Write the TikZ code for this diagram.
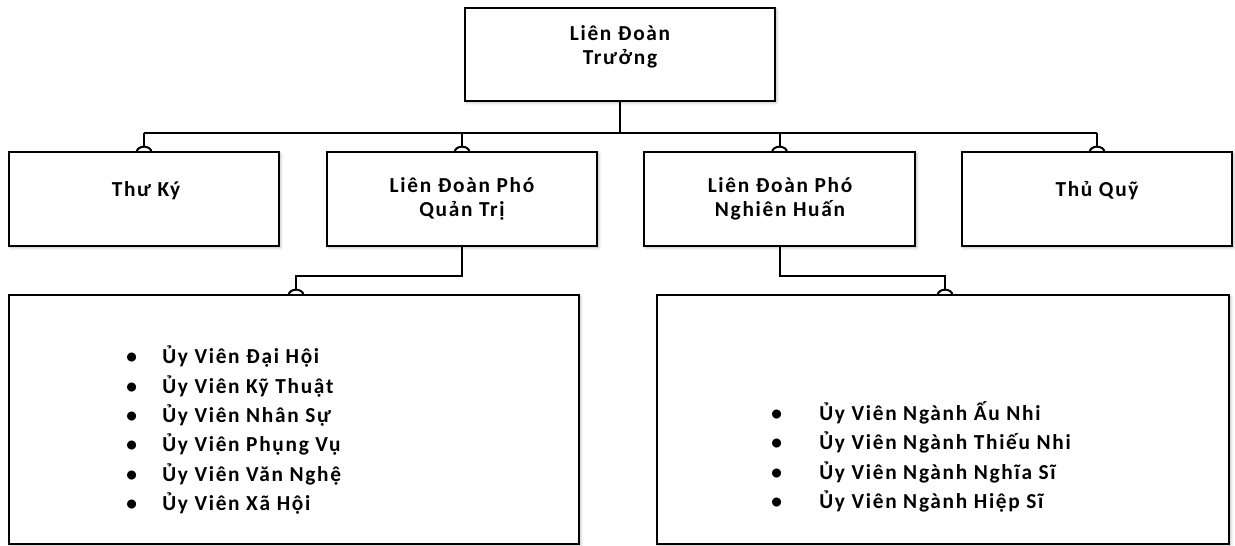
\documentclass[tikz,border=0pt]{standalone}
\usepackage{fontspec}
\setmainfont{Carlito}[LetterSpace=8]
\usetikzlibrary{fit,calc,shadows.blur}
\begin{document}
\begin{tikzpicture}[x=0.75pt,y=-0.75pt,
  box/.style={draw=black, line width=1.5pt, fill=white, inner sep=0pt, outer sep=0pt,
    blur shadow={shadow xshift=1.2pt, shadow yshift=-1.2pt, shadow blur radius=2pt, shadow opacity=30}},
  lbl/.style={font=\fontsize{16}{18}\selectfont\bfseries, align=center, inner sep=0pt},
  lst/.style={font=\fontsize{16}{22}\selectfont\bfseries, align=left, inner sep=0pt, anchor=west},
  conn/.style={line width=1.5pt, line join=miter},
  jump/.style={line width=1.5pt}]
\useasboundingbox (0,0) rectangle (1235,546);

% boxes
\node[box, fit={(465,8) (775,101)}] (top) {};
\node[box, fit={(9,152) (279,246)}] (thu) {};
\node[box, fit={(327,152) (597,246)}] (qt) {};
\node[box, fit={(644,152) (915,246)}] (nh) {};
\node[box, fit={(962,152) (1232,246)}] (quy) {};
\node[box, fit={(9,295) (579,544)}] (adm) {};
\node[box, fit={(657,295) (1229,544)}] (hl) {};

% labels
\node[lbl] (ltop) at (620,47) {Liên Đoàn\\Trưởng};
\node[lbl] (lthu) at (146,191) {Thư Ký};
\node[lbl] (lqt) at (462,199) {Liên Đoàn Phó\\Quản Trị};
\node[lbl] (lnh) at (780,199) {Liên Đoàn Phó\\Nghiên Huấn};
\node[lbl] (lquy) at (1097,191) {Thủ Quỹ};

\node[lst] (ladm) at (126,430) {%
\makebox[27pt][l]{•}Ủy Viên Đại Hội\\
\makebox[27pt][l]{•}Ủy Viên Kỹ Thuật\\
\makebox[27pt][l]{•}Ủy Viên Nhân Sự\\
\makebox[27pt][l]{•}Ủy Viên Phụng Vụ\\
\makebox[27pt][l]{•}Ủy Viên Văn Nghệ\\
\makebox[27pt][l]{•}Ủy Viên Xã Hội};

\node[lst] (lhl) at (771,457) {%
\makebox[36pt][l]{•}Ủy Viên Ngành Ấu Nhi\\
\makebox[36pt][l]{•}Ủy Viên Ngành Thiếu Nhi\\
\makebox[36pt][l]{•}Ủy Viên Ngành Nghĩa Sĩ\\
\makebox[36pt][l]{•}Ủy Viên Ngành Hiệp Sĩ};

% connectors
\coordinate (bus) at (620,133);
\coordinate (lrow) at (0,276);
\draw[conn] (top.south) -- (top.south |- bus);
\draw[conn] (thu.north |- bus) -- (quy.north |- bus);
\foreach \c in {thu,qt,nh,quy} {
  \draw[conn] (\c.north |- bus) -- ($(\c.north)+(0,-5.3)$);
  \draw[jump] ($(\c.north)+(-7.3,0)$) arc[start angle=180,end angle=0,x radius=5.5pt,y radius=4pt];
}
\draw[conn] (qt.south) -- (qt.south |- lrow) -| ($(adm.north)+(2,-5.3)$);
\draw[jump] ($(adm.north)+(-5.3,0)$) arc[start angle=180,end angle=0,x radius=5.5pt,y radius=4pt];
\draw[conn] (nh.south) -- (nh.south |- lrow) -| ($(hl.north)+(2,-5.3)$);
\draw[jump] ($(hl.north)+(-5.3,0)$) arc[start angle=180,end angle=0,x radius=5.5pt,y radius=4pt];
\end{tikzpicture}
\end{document}
